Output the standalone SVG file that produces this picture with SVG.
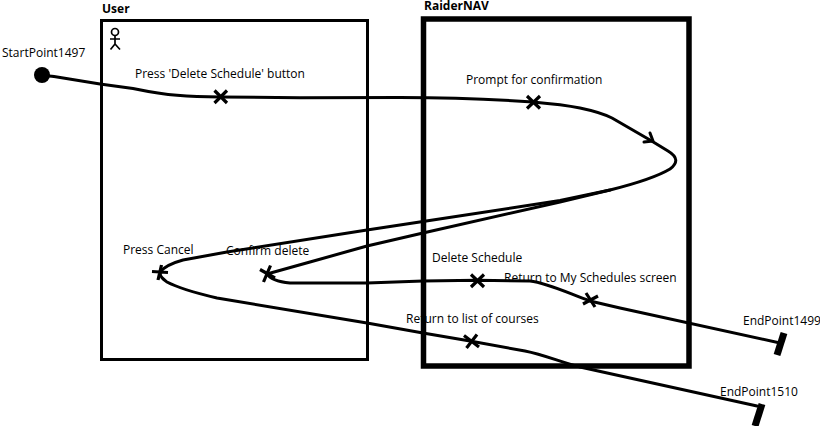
<svg xmlns="http://www.w3.org/2000/svg" width="820" height="426" viewBox="0 0 820 426">
<style>
text{font-family:"Open Sans","Noto Sans",sans-serif;font-size:12px;fill:#000}
.t{font-weight:700}
.c{fill:none;stroke:#000;stroke-width:3;stroke-linecap:round;stroke-linejoin:round}
.x{fill:none;stroke:#000;stroke-width:3.200}
.a{fill:none;stroke:#000;stroke-width:1.700}
.e{fill:none;stroke:#000;stroke-width:7}
</style>
<rect width="820" height="426" fill="#fff"/>
<g id="User"><rect x="101.500" y="20.500" width="266" height="339" fill="none" stroke="#000" stroke-width="3"/><text class="t" x="102" y="13">User</text>
<g class="a"><circle cx="115" cy="32" r="3.500"/><path d="M115,35.500V44M110,39H120M110.500,49.500L115,44L120,49.500"/></g></g>
<g id="RaiderNAV"><rect x="423.500" y="19" width="265.500" height="347" fill="none" stroke="#000" stroke-width="5.500"/><text class="t" x="424" y="10">RaiderNAV</text></g>
<g id="connectors">
<path class="c" d="M42,75C46,75.500 50,76 54,76.600L100,84L133,88.500C150,92 165,94.500 177,95.300C190,96.500 205,97 220,97L300,97.700L400,97.500C450,97.500 490,99 533,102C550,103.500 565,105 580,108C592,110.500 602,113 612,118L650,140L668,151C678,157 678,163 670,169C655,178 630,185 610,190L560,200.500L423,221.500L367,230L227,252L183,260C172,263 165,266 160,272C160,277 163,279 167,282C180,289 200,294 217,298L367,323L423,333L470,341L525,351C545,355 560,362 580,367L757,406"/>
<path class="c" d="M610,190L560,202L423,233L367,246L310,262L267,274C270,279 280,282 290,283L367,283L423,281L477,280.300L530,281C548,283 570,294 590,301L620,308L780,343"/>
<path class="c" d="M644,142L653,141L650,133"/>
</g>
<g id="StartPoint1497"><circle cx="42" cy="75" r="8" fill="#000"/><text x="2" y="57">StartPoint1497</text></g>
<g id="DeleteScheduleButton"><path class="x" d="M214.500,90.500L227,103M227,90.500L214.500,103"/><text x="135" y="78">Press 'Delete Schedule' button</text></g>
<g id="PromptForConfirmation"><path class="x" d="M527,96L540,108.500M540,96L527,108.500"/><text x="466" y="84">Prompt for confirmation</text></g>
<g id="PressCancel"><path class="x" d="M152,271.500L168,272.500M161.500,265L158,280"/><text x="123" y="254">Press Cancel</text></g>
<g id="ConfirmDelete"><path class="x" d="M260,269.500L275,278M270.500,265.500L263.500,282"/><text x="226" y="255">Confirm delete</text></g>
<g id="DeleteSchedule"><path class="x" d="M471,274.500L484,287M484,274.500L471,287"/><text x="432" y="262">Delete Schedule</text></g>
<g id="ReturnToMySchedules"><path class="x" d="M586,293L595,307M598,296L583,304"/><text x="504" y="282">Return to My Schedules screen</text></g>
<g id="ReturnToList"><path class="x" d="M464,335.500L479,347M477,334.500L466.500,348"/><text x="406" y="323">Return to list of courses</text></g>
<g id="EndPoint1499"><path class="e" d="M784,333L777,355"/><text x="743" y="325">EndPoint1499</text></g>
<g id="EndPoint1510"><path class="e" d="M762,404L755,426"/><text x="720" y="396">EndPoint1510</text></g>
</svg>
